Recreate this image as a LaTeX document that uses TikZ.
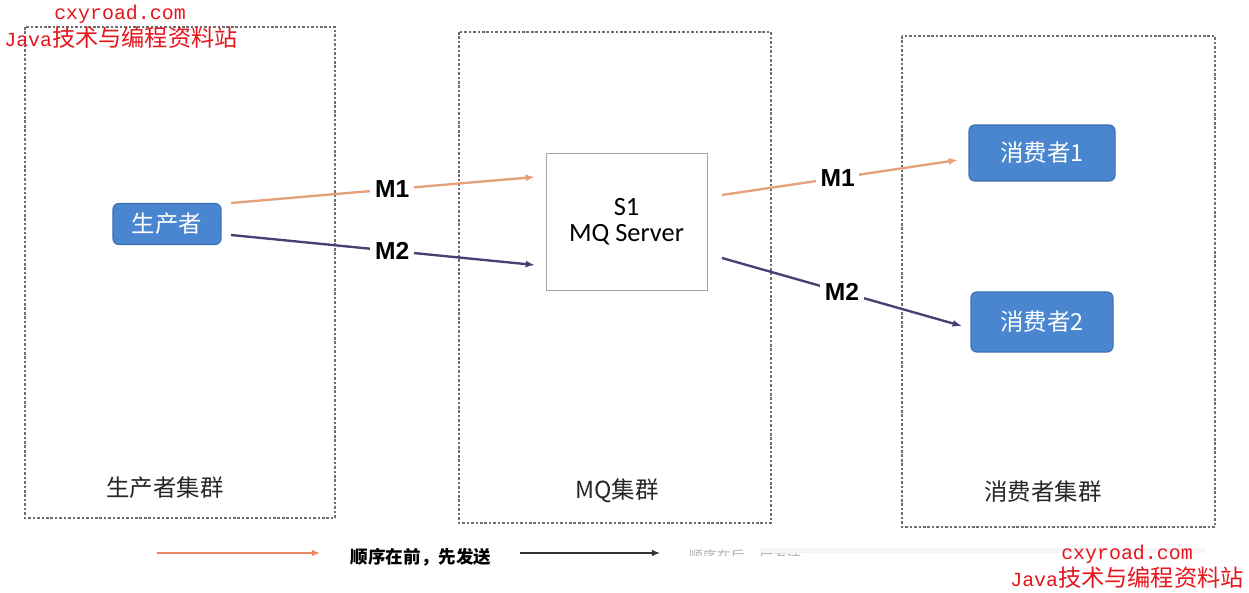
\documentclass[tikz,border=0pt]{standalone}
\usepackage{fontspec}
\setmainfont{Liberation Sans}
\newfontfamily\cjk{Noto Sans CJK SC}
\newfontfamily\calib{Carlito}
\newfontfamily\wmmono{Liberation Mono}
\usetikzlibrary{arrows.meta}
\definecolor{ordcol}{HTML}{E6A07A}
\definecolor{purcol}{HTML}{4A3F73}
\definecolor{bluefill}{HTML}{4A86CF}
\definecolor{blueedge}{HTML}{3F72B5}
\definecolor{wmred}{HTML}{E8141B}
\definecolor{dotgray}{HTML}{6E6E6E}
\begin{document}
\begin{tikzpicture}[x=0.03cm,y=-0.03cm,
  groupbox/.style={draw=dotgray, dash pattern=on 2.2pt off 1.6pt, line width=2.4pt},
  bluenode/.style={draw=blueedge, fill=bluefill, rounded corners=5pt, line width=1pt, text=white, font=\cjk\fontsize{20}{23}\selectfont},
  serverbox/.style={draw=gray!70, line width=0.8pt, fill=white, font=\calib\fontsize{22.5}{25}\selectfont, align=center},
  msglabel/.style={fill=white, inner sep=4pt, font=\bfseries\fontsize{21}{24}\selectfont},
  grouplabel/.style={font=\cjk\fontsize{20}{23}\selectfont, text=black!85},
  orangearrow/.style={draw=ordcol, line width=2pt, -{Latex[length=8pt,width=6pt]}},
  purplearrow/.style={draw=purcol, line width=2pt, -{Latex[length=8pt,width=6pt]}},
  wm/.style={text=wmred, font=\fontsize{17}{19}\selectfont, inner sep=0pt}
]
\useasboundingbox (0,0) rectangle (1249,593);
\fill[white] (0,0) rectangle (1249,593);

% group boxes
\draw[groupbox] (25,27) rectangle (335,518);
\draw[groupbox] (459,32) rectangle (771,523);
\draw[groupbox] (902,36) rectangle (1215,527);

\node[grouplabel] (gprod) at (165,488) {生产者集群};
\node[grouplabel] (gmq) at (617,491) {MQ集群};
\node[grouplabel] (gcons) at (1043,492) {消费者集群};

% nodes
\node[bluenode, minimum width=3.24cm, minimum height=1.23cm] (prod) at (167,224) {生产者};
\node[serverbox, minimum width=4.83cm, minimum height=4.11cm] (mq) at (626.5,221.5) {S1\\[-3pt]MQ Server};
\node[bluenode, minimum width=4.38cm, minimum height=1.68cm] (c1) at (1042,153) {消费者1};
\node[bluenode, minimum width=4.26cm, minimum height=1.80cm] (c2) at (1042,322) {消费者2};

% connector anchor points
\coordinate (p1) at (231,203);
\coordinate (q1) at (535,177);
\coordinate (p2) at (231,235);
\coordinate (q2) at (535,265);
\coordinate (s1) at (722,195);
\coordinate (r1) at (958,160);
\coordinate (s2) at (722,258);
\coordinate (r2) at (962,326);

\draw[orangearrow] (p1) -- node[msglabel, pos=0.53] (m1a) {M1} (q1);
\draw[purplearrow] (p2) -- node[msglabel, pos=0.53] (m2a) {M2} (q2);
\draw[orangearrow] (s1) -- node[msglabel, pos=0.49] (m1b) {M1} (r1);
\draw[purplearrow] (s2) -- node[msglabel, pos=0.5] (m2b) {M2} (r2);

% legend
\coordinate (la) at (157,553);
\coordinate (lb) at (320,553);
\coordinate (lc) at (520,553);
\coordinate (ld) at (660,553);
\draw[draw=ordcol!85!red, line width=2pt, -{Latex[length=7pt,width=6pt]}] (la) -- (lb);
\node[font=\cjk\bfseries\fontsize{15}{17}\selectfont] (lt1) at (421,557) {顺序在前，先发送};
\draw[draw=black!80, line width=2.2pt, -{Latex[length=7pt,width=6pt]}] (lc) -- (ld);
\node[font=\cjk\fontsize{12}{14}\selectfont, text=gray!60] (lt2) at (745,556) {顺序在后，后发送};
\fill[white] (640,556) rectangle (1249,593);
\fill[black!4] (760,548) rectangle (1205,553);

% watermarks
\node[wm, font=\wmmono\fontsize{17}{19}\selectfont] (wm1) at (120,14) {cxyroad.com};
\node[wm] (wm2) at (121,38) {{\wmmono\fontsize{17}{19}\selectfont Java}{\cjk\fontsize{19.8}{21}\selectfont 技术与编程资料站}};
\node[wm, font=\wmmono\fontsize{17}{19}\selectfont] (wm3) at (1127,554) {cxyroad.com};
\node[wm] (wm4) at (1127,578) {{\wmmono\fontsize{17}{19}\selectfont Java}{\cjk\fontsize{19.8}{21}\selectfont 技术与编程资料站}};
\end{tikzpicture}
\end{document}
